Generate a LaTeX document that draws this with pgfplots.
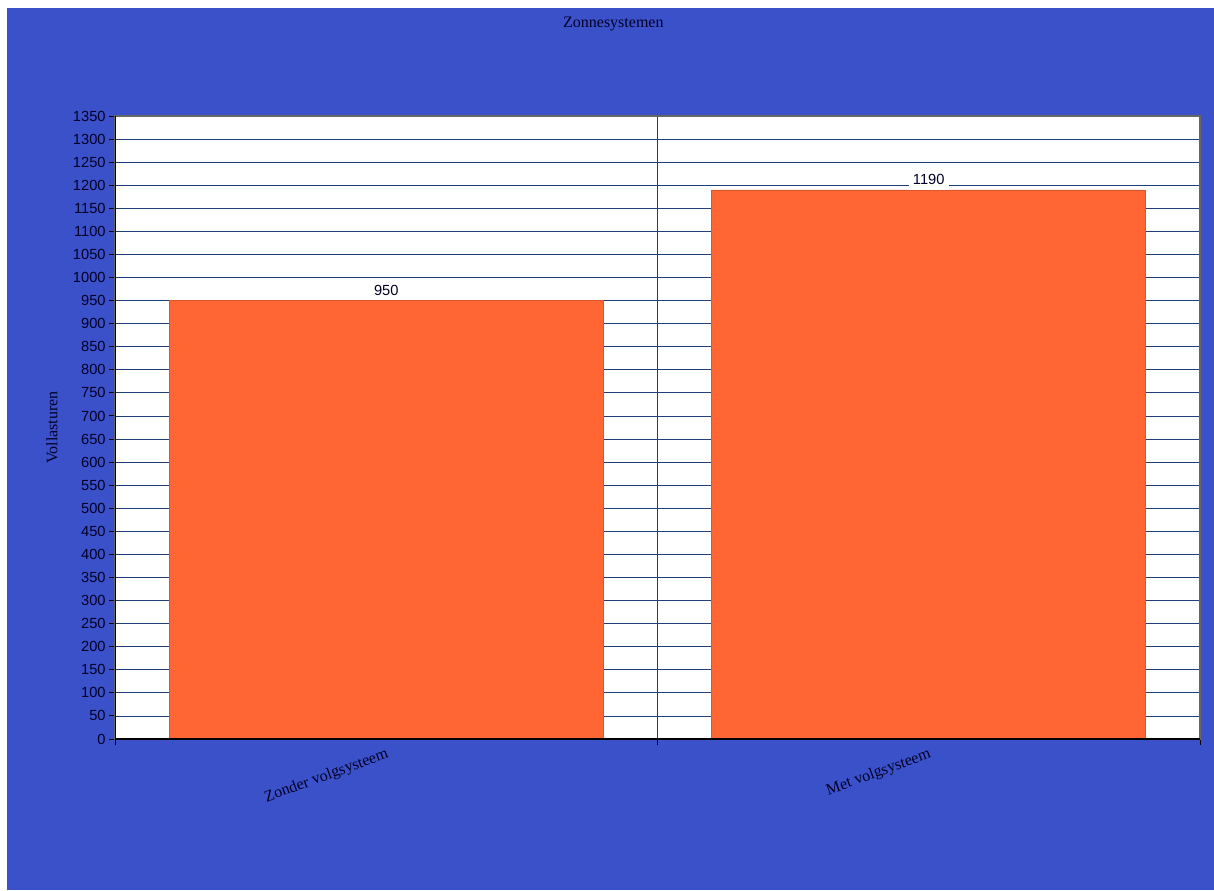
\documentclass[border=0pt]{standalone}
\usepackage{pgfplots}
\pgfplotsset{compat=1.18}
\usepackage{fontspec}
\setmainfont{Liberation Serif}
\newfontfamily\tickfont{Liberation Sans}
\definecolor{bgblue}{HTML}{3B51CA}
\definecolor{barorange}{HTML}{FF6633}
\definecolor{gridblue}{HTML}{1F3F78}
\begin{document}
\begin{tikzpicture}
\fill[white] (0pt,0pt) rectangle (910.5pt,667.5pt);
\fill[bgblue] (5.25pt,0pt) rectangle (910.5pt,661.5pt);
\node[font=\fontsize{12}{12}\selectfont, text=black!85!blue] at (460pt,649.5pt) {Zonnesystemen};
\node[font=\fontsize{12}{12}\selectfont, rotate=90, text=black!85!blue] at (39pt,346.9pt) {Vollasturen};
\begin{axis}[
  at={(86.25pt,113.25pt)}, anchor=south west,
  scale only axis, width=813.75pt, height=467.25pt,
  axis background/.style={fill=white},
  xmin=-0.5, xmax=1.5, ymin=0, ymax=1350,
  ytick={0,50,...,1350},
  xtick={-0.5,0.5,1.5},
  xticklabels={Zonder volgsysteem, Met volgsysteem},
  x tick label as interval,
  xtick pos=left, ytick pos=left,
  grid=major, grid style={gridblue, line width=0.6pt},
  axis line style={draw=black!60, line width=0.9pt},
  tick align=outside, major tick length=4.5pt,
  tick style={black, line width=0.7pt},
  /pgf/number format/assume math mode=true,
  /pgf/number format/1000 sep={},
  yticklabel style={font=\tickfont\fontsize{11}{11}\selectfont, text=black!85!blue, xshift=1pt},
  xticklabel style={font=\fontsize{12}{12}\selectfont, rotate=20, anchor=north east, text=black!85!blue, inner sep=1pt},
  ybar, bar width=0.8,
  nodes near coords,
  nodes near coords style={fill=white, font=\tickfont\fontsize{11}{11}\selectfont, anchor=south, inner xsep=3pt, inner ysep=3.5pt, text=black!85!blue, yshift=0pt},
]
\addplot[fill=barorange, draw=barorange!85!black, line width=0.4pt] coordinates {(0,950) (1,1190)};
\draw[black, line width=1.5pt] (rel axis cs:0,1) -- (rel axis cs:0,0);
\draw[black, line width=2.2pt] (rel axis cs:0,0) -- (rel axis cs:1,0);
\end{axis}
\end{tikzpicture}
\end{document}
